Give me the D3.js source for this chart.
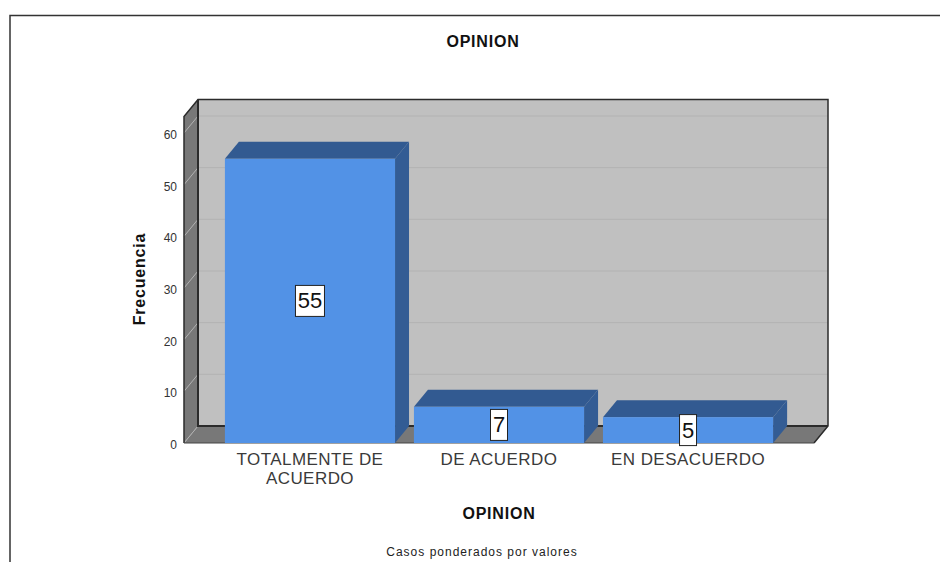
<!DOCTYPE html>
<html>
<head>
<meta charset="utf-8">
<script src="https://cdn.jsdelivr.net/npm/d3@7"></script>
<style>
  html, body { margin: 0; padding: 0; background: #fff; }
  svg { display: block; }
  text { font-family: "Liberation Sans", Arial, sans-serif; }
</style>
</head>
<body>
<svg id="chart" width="940" height="562"></svg>
<script>
const categories = ['TOTALMENTE DE ACUERDO', 'DE ACUERDO', 'EN DESACUERDO']
const categoryLines = [['TOTALMENTE DE', 'ACUERDO'], ['DE ACUERDO'], ['EN DESACUERDO']]
const frequencies = [55, 7, 5]
const yTicks = [0, 10, 20, 30, 40, 50, 60]

const svg = d3.select('#chart')

// frame of the screenshot
svg.append('path')
    .attr('d', 'M10,562V15.5H940')
    .attr('fill', 'none')
    .attr('stroke', '#333')
    .attr('stroke-width', 1.5)

const depthX = 14
const depthY = 17
const floorY = 443
const x = d3.scaleBand().domain(categories).range([206, 792]).paddingInner(0.1).paddingOuter(0.1)
const y = d3.scaleLinear().domain([0, 60]).range([floorY, 133])
const left = 184
const right = 814
const wallTop = y(63.2)

const poly = pts => pts.map(p => p.join(',')).join(' ')

// back wall, side wall, floor
svg.append('polygon')
    .attr('points', poly([[left + depthX, wallTop - depthY], [right + depthX, wallTop - depthY], [right + depthX, floorY - depthY], [left + depthX, floorY - depthY]]))
    .attr('fill', '#c0c0c0')
svg.append('polygon')
    .attr('points', poly([[left, wallTop], [left + depthX, wallTop - depthY], [left + depthX, floorY - depthY], [left, floorY]]))
    .attr('fill', '#787878')
svg.append('polygon')
    .attr('points', poly([[left, floorY], [left + depthX, floorY - depthY], [right + depthX, floorY - depthY], [right, floorY]]))
    .attr('fill', '#787878')

// gridlines
svg.append('g')
    .selectAll('path')
    .data(yTicks)
    .enter()
    .append('path')
    .attr('d', d => `M${left},${y(d)}L${left + depthX},${y(d) - depthY}H${right + depthX}`)
    .attr('fill', 'none')
    .attr('stroke', '#b2b2b2')
    .attr('stroke-width', 1)

// wall outline
svg.append('path')
    .attr('d', `M${left},${floorY}V${wallTop}L${left + depthX},${wallTop - depthY}H${right + depthX}V${floorY - depthY}L${right},${floorY}`)
    .attr('fill', 'none')
    .attr('stroke', '#2b2b2b')
    .attr('stroke-width', 1.5)
svg.append('path')
    .attr('d', `M${left + depthX},${wallTop - depthY}V${floorY - depthY}H${right + depthX}`)
    .attr('fill', 'none')
    .attr('stroke', '#2b2b2b')
    .attr('stroke-width', 2)
svg.append('path')
    .attr('d', `M${left},${floorY}H${right}`)
    .attr('fill', 'none')
    .attr('stroke', '#444')
    .attr('stroke-width', 1)

// bars
const bars = svg.append('g')
    .selectAll('g')
    .data(categories)
    .enter()
    .append('g')
bars.append('polygon')
    .attr('points', (d, i) => {
      const x0 = x(d)
      const x1 = x0 + x.bandwidth()
      const top = y(frequencies[i])
      return poly([[x1, top], [x1 + depthX, top - depthY], [x1 + depthX, floorY - depthY], [x1, floorY]])
    })
    .attr('fill', '#335c94')
bars.append('polygon')
    .attr('points', (d, i) => {
      const x0 = x(d)
      const x1 = x0 + x.bandwidth()
      const top = y(frequencies[i])
      return poly([[x0, top], [x0 + depthX, top - depthY], [x1 + depthX, top - depthY], [x1, top]])
    })
    .attr('fill', '#325a91')
bars.append('rect')
    .attr('x', d => x(d))
    .attr('y', (d, i) => y(frequencies[i]))
    .attr('width', x.bandwidth())
    .attr('height', (d, i) => floorY - y(frequencies[i]))
    .attr('fill', '#5292e6')

// value labels
const labels = svg.append('g')
    .selectAll('g')
    .data(categories)
    .enter()
    .append('g')
    .attr('transform', (d, i) => `translate(${x(d) + x.bandwidth() / 2},${(y(frequencies[i]) + floorY) / 2})`)
labels.append('rect')
    .attr('x', (d, i) => frequencies[i] > 9 ? -14.5 : -8.5)
    .attr('y', -15.5)
    .attr('width', (d, i) => frequencies[i] > 9 ? 29 : 17)
    .attr('height', 31)
    .attr('fill', '#fff')
    .attr('stroke', '#222')
    .attr('stroke-width', 1)
labels.append('text')
    .attr('text-anchor', 'middle')
    .attr('dominant-baseline', 'central')
    .attr('font-size', 22)
    .attr('fill', '#111')
    .text((d, i) => frequencies[i])

// y axis labels
const yAxis = d3.axisLeft(y).tickValues(yTicks).tickSize(0).tickPadding(7)
const yG = svg.append('g')
    .attr('transform', `translate(${left},1.5)`)
    .call(yAxis)
yG.select('.domain').remove()
yG.selectAll('text')
    .attr('font-size', 12)
    .attr('fill', '#333')
    .style('font-family', '"Liberation Sans", Arial, sans-serif')

// category labels
svg.append('g')
    .selectAll('text')
    .data(categories)
    .enter()
    .append('text')
    .attr('text-anchor', 'middle')
    .attr('font-size', 17)
    .attr('letter-spacing', 0.45)
    .attr('fill', '#3a3a3a')
    .each(function (d, i) {
      d3.select(this)
          .selectAll('tspan')
          .data(categoryLines[i])
          .enter()
          .append('tspan')
          .attr('x', x(d) + x.bandwidth() / 2)
          .attr('y', (l, j) => 465 + j * 19)
          .text(l => l)
    })

// titles
svg.append('text')
    .attr('x', 483)
    .attr('y', 47)
    .attr('text-anchor', 'middle')
    .attr('font-size', 16)
    .attr('letter-spacing', 0.8)
    .attr('font-weight', 'bold')
    .attr('fill', '#111')
    .text('OPINION')
svg.append('text')
    .attr('x', 499)
    .attr('y', 519)
    .attr('text-anchor', 'middle')
    .attr('font-size', 16)
    .attr('letter-spacing', 0.8)
    .attr('font-weight', 'bold')
    .attr('fill', '#111')
    .text('OPINION')
svg.append('text')
    .attr('transform', 'translate(145,279) rotate(-90)')
    .attr('text-anchor', 'middle')
    .attr('font-size', 16)
    .attr('letter-spacing', 0.8)
    .attr('font-weight', 'bold')
    .attr('fill', '#111')
    .text('Frecuencia')
svg.append('text')
    .attr('x', 482)
    .attr('y', 556)
    .attr('text-anchor', 'middle')
    .attr('font-size', 12)
    .attr('letter-spacing', 1)
    .attr('fill', '#222')
    .text('Casos ponderados por valores')
</script>
</body>
</html>
